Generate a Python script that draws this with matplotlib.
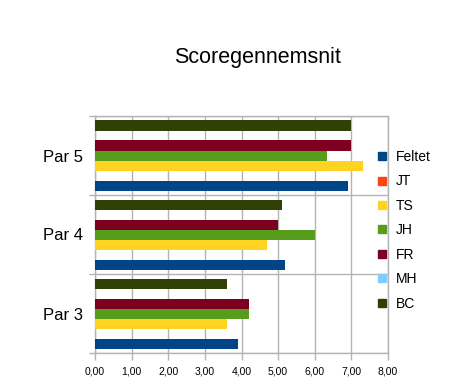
import matplotlib
matplotlib.use("Agg")
import matplotlib.pyplot as plt
from matplotlib.lines import Line2D
import numpy as np

plt.rcParams['font.family'] = ['Liberation Sans', 'DejaVu Sans']

categories = ["Par 3", "Par 4", "Par 5"]
series_names = ["Feltet", "JT", "TS", "JH", "FR", "MH", "BC"]
series_values = {
    "Feltet": [3.90, 5.19, 6.91],
    "JT":     [0.0, 0.0, 0.0],
    "TS":     [3.60, 4.70, 7.32],
    "JH":     [4.20, 6.00, 6.34],
    "FR":     [4.20, 5.00, 7.00],
    "MH":     [0.0, 0.0, 0.0],
    "BC":     [3.60, 5.11, 7.00],
}
colors = {
    "Feltet": "#004586", "JT": "#ff420e", "TS": "#ffd320", "JH": "#579d1c",
    "FR": "#7e0021", "MH": "#83caff", "BC": "#314004",
}
xticks = [0, 1, 2, 3, 4, 5, 6, 7, 8]
xtick_labels = ["0,00", "1,00", "2,00", "3,00", "4,00", "5,00", "6,00", "7,00", "8,00"]

W, H = 477, 389
fig = plt.figure(figsize=(W/100, H/100), dpi=100)
ax = fig.add_axes([95/W, 1-353/H, (388-95)/W, (353-116)/H])

s = 10/79
y = np.arange(len(categories))
for i, name in enumerate(series_names):
    ax.barh(y + (i-3)*s, series_values[name], height=s, color=colors[name], zorder=3, linewidth=0)

grid = "#b3b3b3"
ax.set_xlim(0, 8)
ax.set_ylim(-0.5, len(categories)-0.5)
ax.set_xticks(xticks)
ax.set_xticklabels(xtick_labels, fontsize=7.5)
ax.set_yticks(y)
ax.set_yticklabels(categories, fontsize=12)
ax.set_yticks(np.arange(-0.5, len(categories)), minor=True)
ax.tick_params(axis='y', which='major', length=0, pad=8.6)
ax.tick_params(axis='y', which='minor', length=4, color=grid, width=1)
ax.tick_params(axis='x', which='major', length=5, color=grid, width=1, pad=5)
ax.grid(axis='x', which='major', color=grid, linewidth=1, zorder=0)
ax.grid(axis='y', which='minor', color=grid, linewidth=1, zorder=0)
for sp in ax.spines.values():
    sp.set_color(grid)
    sp.set_linewidth(1)

fig.text(258/W, 1-57/H, "Scoregennemsnit", ha='center', va='center', fontsize=15.5)

handles = [Line2D([], [], marker='s', linestyle='none', markersize=6,
                  markerfacecolor=colors[n], markeredgecolor=colors[n]) for n in series_names]
fig.legend(handles, series_names, loc='upper left', bbox_to_anchor=(376/W, 1-150/H),
           frameon=False, fontsize=10, handlelength=0.8, handletextpad=0.6,
           labelspacing=0.75, borderpad=0, borderaxespad=0)

fig.savefig("out.png", dpi=100)
